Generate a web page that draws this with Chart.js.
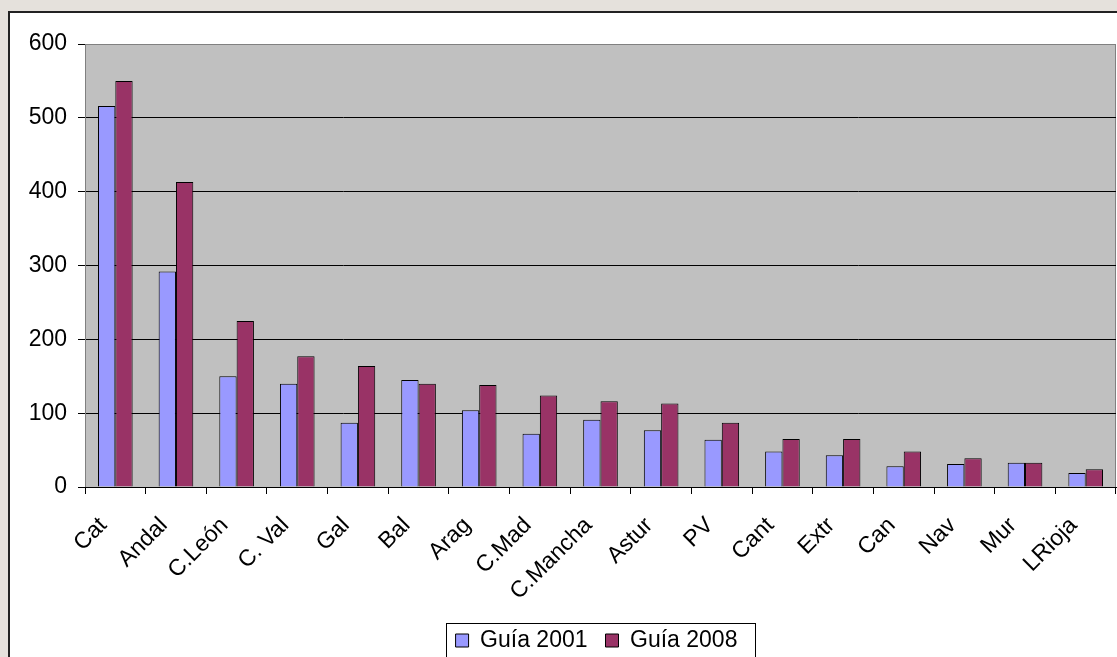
<!DOCTYPE html>
<html>
<head>
<meta charset="utf-8">
<script src="https://cdn.jsdelivr.net/npm/chart.js@4"></script>
<style>
  html, body { margin: 0; padding: 0; overflow: hidden; background: #e5e1dc; }
  #frame { position: absolute; left: 8px; top: 11px; width: 1130px; height: 700px; background: #fff; border: 2px solid #222; box-sizing: border-box; }
  #c { position: absolute; left: 0; top: 0; }
</style>
</head>
<body>
<div id="frame"></div>
<canvas id="c" width="1117" height="662"></canvas>
<script>
const categories = ['Cat', 'Andal', 'C.León', 'C. Val', 'Gal', 'Bal', 'Arag', 'C.Mad', 'C.Mancha', 'Astur', 'PV', 'Cant', 'Extr', 'Can', 'Nav', 'Mur', 'LRioja'];
const guia2001 = [516, 292, 150, 140, 87, 145, 104, 72, 91, 77, 64, 48, 43, 28, 31, 33, 19];
const guia2008 = [550, 413, 225, 177, 164, 140, 138, 124, 116, 113, 87, 65, 65, 48, 39, 33, 24];
const yTicks = [0, 100, 200, 300, 400, 500, 600];

const font = { family: '"Liberation Sans", Arial, sans-serif', size: 23 };

// gray plot background, legend centred under the plot, legend frame
const decor = {
    id: 'decor',
    afterLayout(chart) {
        const a = chart.chartArea, lg = chart.legend;
        const shift = (a.left + a.right) / 2 - (lg.left + lg.right) / 2 - 4;
        lg.left += shift;
        lg.right += shift;
    },
    beforeDraw(chart) {
        const a = chart.chartArea, ctx = chart.ctx;
        ctx.save();
        ctx.fillStyle = '#c0c0c0';
        ctx.fillRect(a.left, a.top, a.right - a.left, a.bottom - a.top);
        ctx.strokeStyle = '#808080';
        ctx.lineWidth = 1;
        ctx.strokeRect(a.left + 0.5, a.top + 0.5, a.right - a.left - 1, a.bottom - a.top);
        ctx.restore();
    },
    afterDraw(chart) {
        const boxes = chart.legend.legendHitBoxes;
        if (!boxes || !boxes.length) return;
        const ctx = chart.ctx;
        let l = Math.round(Math.min(...boxes.map(b => b.left)) - 10);
        let r = Math.round(Math.max(...boxes.map(b => b.left + b.width)) + 18);
        let t = Math.round(Math.min(...boxes.map(b => b.top)) - 6);
        ctx.save();
        ctx.strokeStyle = '#000';
        ctx.lineWidth = 1;
        ctx.strokeRect(l + 0.5, t + 0.5, r - l, 60);
        ctx.restore();
    }
};

new Chart(document.getElementById('c').getContext('2d'), {
    type: 'bar',
    data: {
        labels: categories,
        datasets: [
            { label: 'Guía 2001', data: guia2001, backgroundColor: '#9999ff', borderColor: '#000', borderWidth: 1 },
            { label: 'Guía 2008', data: guia2008, backgroundColor: '#993366', borderColor: '#000', borderWidth: 1 }
        ]
    },
    options: {
        responsive: false,
        animation: false,
        layout: { padding: { left: 0, top: 44, right: 1, bottom: 0 } },
        datasets: { bar: { categoryPercentage: 0.571, barPercentage: 1 } },
        plugins: {
            legend: {
                position: 'bottom',
                labels: { font: font, color: '#000', boxWidth: 13, boxHeight: 13, padding: 18 }
            },
            tooltip: { enabled: false }
        },
        scales: {
            y: {
                min: 0, max: 600,
                afterBuildTicks: s => { s.ticks = yTicks.map(v => ({ value: v })); },
                afterFit: s => { s.width = 85; },
                ticks: { font: font, color: '#000', padding: 11 },
                grid: {
                    color: c => c.tick && c.tick.value === 600 ? '#808080' : '#000',
                    tickColor: '#000', tickLength: 7, lineWidth: 1
                },
                border: { color: '#808080' }
            },
            x: {
                afterFit: s => { s.height = 124; s.paddingLeft = 0; s.paddingRight = 0; },
                ticks: { font: font, color: '#000', minRotation: 45, maxRotation: 45, padding: 18, labelOffset: -12, autoSkip: false },
                grid: { offset: true, drawOnChartArea: false, tickColor: '#000', tickLength: 7 },
                border: { color: '#000' }
            }
        }
    },
    plugins: [decor]
});
</script>
</body>
</html>
